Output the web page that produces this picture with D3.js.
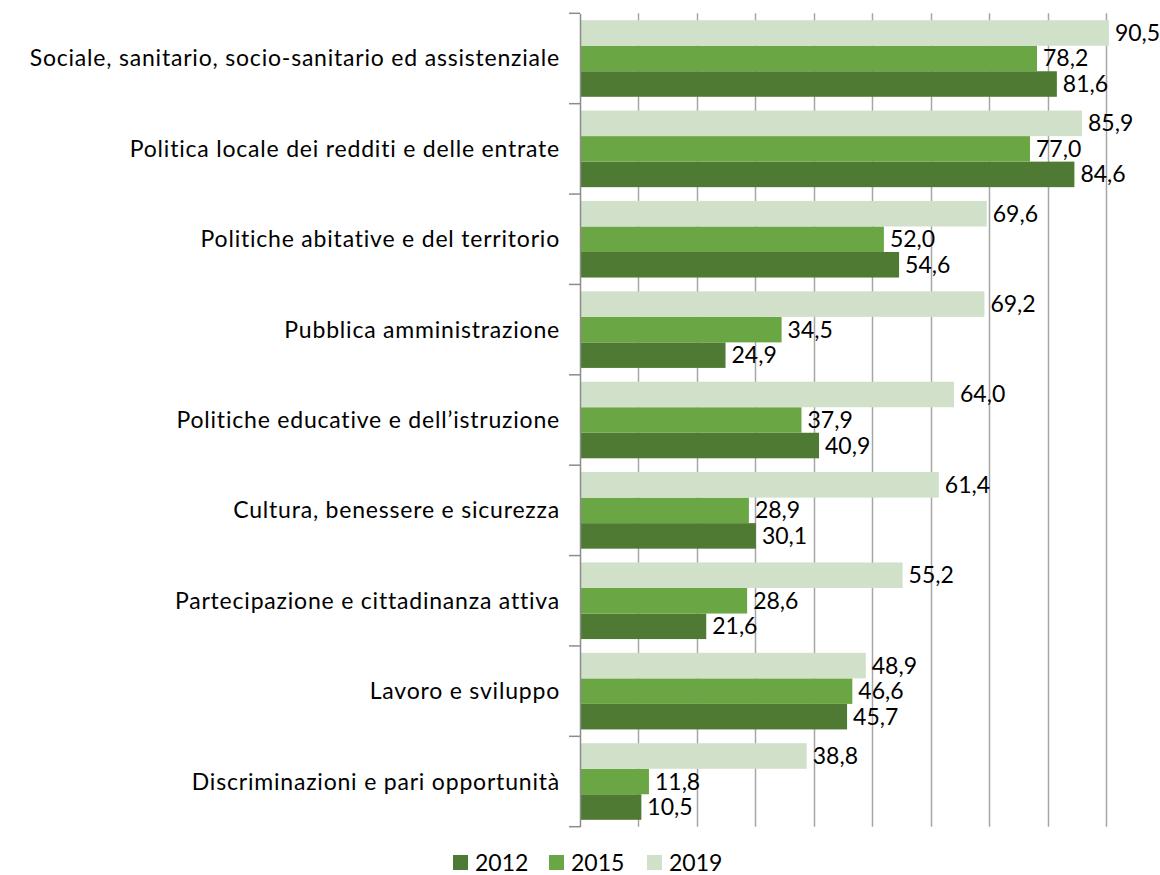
<!DOCTYPE html>
<html><head><meta charset="utf-8">
<script src="https://cdn.jsdelivr.net/npm/d3@7"></script>
<style>html,body{margin:0;padding:0;background:#fff;overflow:hidden}</style>
</head><body>
<svg id="c" width="1160" height="875"></svg>
<script>
const categories = [
  "Sociale, sanitario, socio-sanitario ed assistenziale",
  "Politica locale dei redditi e delle entrate",
  "Politiche abitative e del territorio",
  "Pubblica amministrazione",
  "Politiche educative e dell\u2019istruzione",
  "Cultura, benessere e sicurezza",
  "Partecipazione e cittadinanza attiva",
  "Lavoro e sviluppo",
  "Discriminazioni e pari opportunità"
];
const seriesNames = ["2012", "2015", "2019"];
const values2012 = [81.6, 84.6, 54.6, 24.9, 40.9, 30.1, 21.6, 45.7, 10.5];
const values2015 = [78.2, 77.0, 52.0, 34.5, 37.9, 28.9, 28.6, 46.6, 11.8];
const values2019 = [90.5, 85.9, 69.6, 69.2, 64.0, 61.4, 55.2, 48.9, 38.8];
const gridTicks = [10, 20, 30, 40, 50, 60, 70, 80, 90];
const colors = {"2012": "#4F7A33", "2015": "#6BA644", "2019": "#D0E0C9"};

const seriesVals = {"2012": values2012, "2015": values2015, "2019": values2019};
const FONT = "Lato, 'Open Sans', sans-serif";
const svg = d3.select("#c");

const x = d3.scaleLinear().domain([0, 100]).range([580, 1164.4]);
const y = d3.scaleBand().domain(categories).range([13.3, 826.7]).paddingInner(0).paddingOuter(0);
const inner = d3.scaleBand().domain(["2019", "2015", "2012"]).range([0, y.bandwidth()]).paddingInner(0).paddingOuter(0.27);

// gridlines
svg.append("g").selectAll("line").data(gridTicks).join("line")
  .attr("x1", d => Math.round(x(d)) + 0.5).attr("x2", d => Math.round(x(d)) + 0.5)
  .attr("y1", y.range()[0]).attr("y2", y.range()[1])
  .attr("stroke", "#A6A6A6").attr("stroke-width", 1.5);

// bars
const groups = svg.append("g").selectAll("g").data(categories).join("g")
  .attr("transform", d => `translate(0,${y(d)})`);
groups.each(function(cat, i) {
  const g = d3.select(this);
  seriesNames.forEach(s => {
    const v = seriesVals[s][i];
    g.append("rect")
      .attr("x", x(0)).attr("y", inner(s))
      .attr("width", x(v) - x(0)).attr("height", inner.bandwidth())
      .attr("fill", colors[s]);
    g.append("text")
      .attr("x", x(v) + 6).attr("y", inner(s) + inner.bandwidth() / 2 - 1)
      .attr("dominant-baseline", "central")
      .attr("font-family", FONT).attr("font-size", 23).attr("fill", "#000")
      .text(d3.format(".1f")(v).replace(".", ","));
  });
});

// y axis
const yAxis = d3.axisLeft(y).tickSize(0).tickFormat("");
const ax = svg.append("g").attr("transform", `translate(${x(0)},0)`).call(yAxis);
ax.select(".domain").attr("stroke", "#8C8C8C").attr("stroke-width", 1.5);
// boundary ticks
const bounds = categories.map(c => y(c)).concat([y.range()[1]]);
svg.append("g").selectAll("line").data(bounds).join("line")
  .attr("x1", x(0) - 11).attr("x2", x(0))
  .attr("y1", d => d).attr("y2", d => d)
  .attr("stroke", "#8C8C8C").attr("stroke-width", 1.5);

// category labels
svg.append("g").selectAll("text").data(categories).join("text")
  .attr("x", 560).attr("y", d => y(d) + y.bandwidth() / 2 - 1)
  .attr("text-anchor", "end").attr("dominant-baseline", "central")
  .attr("font-family", FONT).attr("font-size", 23).attr("letter-spacing", 0.8).attr("fill", "#000")
  .text(d => d);

// legend
const legendX = {"2012": 453, "2015": 549, "2019": 647};
const lg = svg.append("g");
seriesNames.forEach(s => {
  lg.append("rect").attr("x", legendX[s]).attr("y", 855).attr("width", 15).attr("height", 15).attr("fill", colors[s]);
  lg.append("text").attr("x", legendX[s] + 22).attr("y", 862)
    .attr("dominant-baseline", "central")
    .attr("font-family", FONT).attr("font-size", 23).attr("fill", "#000").text(s);
});
</script>
</body></html>
